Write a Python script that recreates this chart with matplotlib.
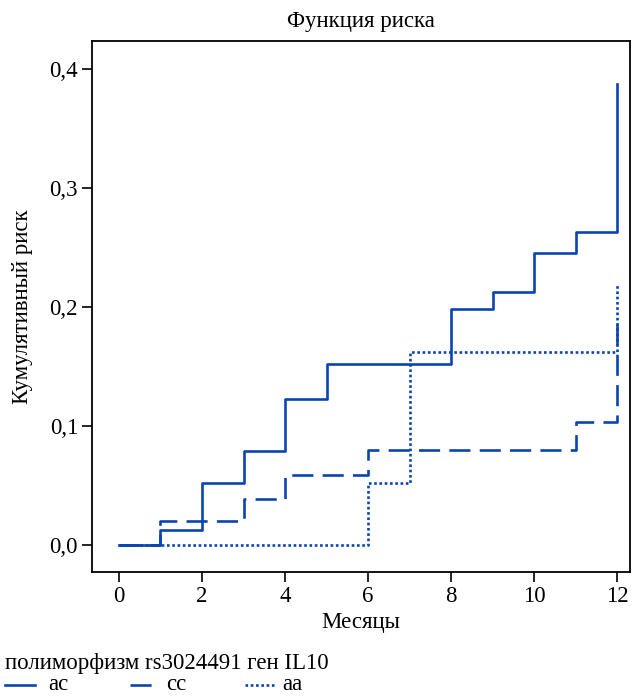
import matplotlib
matplotlib.use("Agg")
import matplotlib.pyplot as plt
from matplotlib.lines import Line2D
from matplotlib.ticker import FuncFormatter

plt.rcParams['font.family'] = ['Liberation Serif', 'DejaVu Serif']

# step times (months) and cumulative risk per genotype
ac_t = [0, 1, 2, 3, 4, 5, 8, 9, 10, 11, 12, 12]
ac_r = [0.0, 0.013, 0.052, 0.079, 0.123, 0.152, 0.198, 0.213, 0.245, 0.263, 0.263, 0.387]

cc_t = [0, 1, 3, 4, 6, 11, 12, 12]
cc_r = [0.0, 0.020, 0.039, 0.059, 0.080, 0.103, 0.103, 0.193]

aa_t = [0, 6, 7, 12, 12]
aa_r = [0.0, 0.052, 0.162, 0.162, 0.220]

labels = ['ac', 'cc', 'aa']
color = '#0a44b0'
styles = ['-', (0, (8, 3.5)), (0, (1, 1))]
FS = 16.5

W, H = 644, 696
fig = plt.figure(figsize=(W / 100, H / 100), dpi=100)
ax = fig.add_axes([92 / W, 1 - 572 / H, 538 / W, 531 / H])

for (t, r), lab, ls in zip([(ac_t, ac_r), (cc_t, cc_r), (aa_t, aa_r)], labels, styles):
    ax.step(t, r, where='post', color=color, lw=1.9, ls=ls, label=lab)

ax.set_xlim(-0.65, 12.31)
ax.set_ylim(-0.0227, 0.4235)
ax.set_xticks(range(0, 13, 2))
ax.set_yticks([0.0, 0.1, 0.2, 0.3, 0.4])
ax.yaxis.set_major_formatter(FuncFormatter(lambda v, p: f"{v:.1f}".replace('.', ',')))
ax.tick_params(direction='out', length=7, width=1.2, labelsize=FS, pad=3)
for s in ax.spines.values():
    s.set_linewidth(1.3)

ax.set_title("Функция риска", fontsize=FS, pad=10)
ax.set_xlabel("Месяцы", fontsize=FS, labelpad=4)
ax.set_ylabel("Кумулятивный риск", fontsize=FS, labelpad=12)

# legend drawn by hand below the axes
fig.text(5 / W, 1 - 663 / H, "полиморфизм rs3024491 ген IL10", fontsize=FS,
         ha='left', va='center')
ly = 1 - 685 / H
for x0, xt, lab, ls in zip([5, 130, 245], [48, 166, 282], labels, styles):
    fig.add_artist(Line2D([x0 / W, (x0 + 30) / W], [ly, ly], color=color, lw=1.9,
                          ls=ls, transform=fig.transFigure))
    fig.text(xt / W, ly, lab, fontsize=FS, ha='left', va='center')

fig.savefig("out.png", dpi=100)
